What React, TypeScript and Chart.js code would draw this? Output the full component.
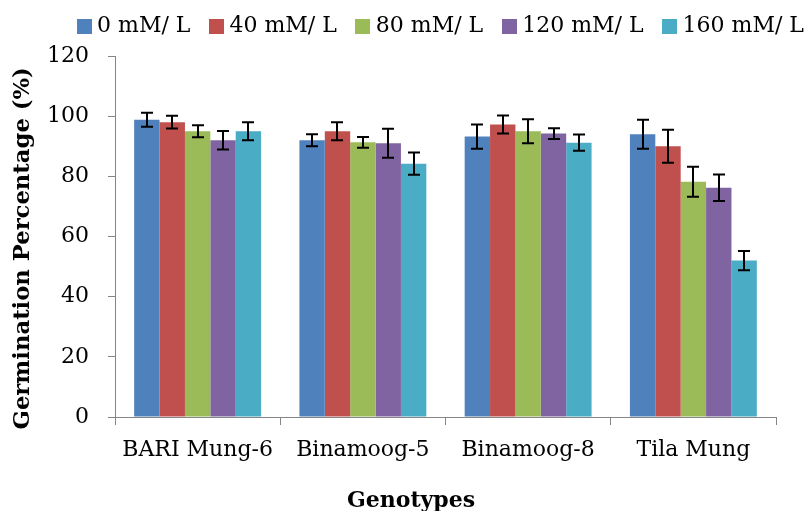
import { useEffect, useRef } from "react";
import { Chart, registerables } from "chart.js";

Chart.register(...registerables);

const categories = ["BARI Mung-6", "Binamoog-5", "Binamoog-8", "Tila Mung"];
const seriesLabels = ["0 mM/ L", "40 mM/ L", "80 mM/ L", "120 mM/ L", "160 mM/ L"];
const seriesColors = ["#4F81BD", "#C0504D", "#9BBB59", "#8064A2", "#4BACC6"];

const s0 = [98.8, 92, 93.2, 94];
const s40 = [98, 95, 97.2, 90];
const s80 = [95, 91.3, 95, 78.2];
const s120 = [92, 91, 94.2, 76.2];
const s160 = [95, 84.2, 91.2, 52];

const e0 = [2.3, 2, 4, 4.8];
const e40 = [2.1, 3, 3, 5.5];
const e80 = [2, 1.8, 4, 5];
const e120 = [3.1, 4.8, 1.8, 4.4];
const e160 = [3, 3.7, 2.7, 3.2];

const yMin = 0;
const yMax = 120;
const yStep = 20;

const seriesValues = [s0, s40, s80, s120, s160];
const seriesErrors = [e0, e40, e80, e120, e160];

const FONT = "'DejaVu Serif', serif";
const AXIS_GRAY = "#868686";

function makeSquare(color: string) {
  const c = document.createElement("canvas");
  c.width = 15;
  c.height = 15;
  const g = c.getContext("2d")!;
  g.fillStyle = color;
  g.fillRect(0, 0, 15, 15);
  return c;
}

const errorBarPlugin = {
  id: "errorBars",
  afterDatasetsDraw(chart: any) {
    const ctx = chart.ctx;
    const yScale = chart.scales.y;
    ctx.save();
    ctx.strokeStyle = "#000";
    ctx.lineWidth = 2;
    chart.data.datasets.forEach((ds: any, i: number) => {
      const meta = chart.getDatasetMeta(i);
      const errs = ds.errors as number[];
      meta.data.forEach((bar: any, j: number) => {
        const v = ds.data[j] as number;
        const e = errs[j];
        const x = Math.round(bar.x);
        const yTop = yScale.getPixelForValue(v + e);
        const yBot = yScale.getPixelForValue(v - e);
        const half = 6;
        ctx.beginPath();
        ctx.moveTo(x, yTop);
        ctx.lineTo(x, yBot);
        ctx.moveTo(x - half, yTop);
        ctx.lineTo(x + half, yTop);
        ctx.moveTo(x - half, yBot);
        ctx.lineTo(x + half, yBot);
        ctx.stroke();
      });
    });
    ctx.restore();
  },
};

const legendShift = {
  id: "legendShift",
  afterLayout(chart: any) {
    const lg = chart.legend;
    if (!lg) return;
    lg.left += 55;
    lg.right += 55;
    lg.top -= 9;
    lg.bottom -= 9;
  },
};

export default function App() {
  const ref = useRef<HTMLCanvasElement>(null);

  useEffect(() => {
    document.body.style.margin = "0";
    if (!ref.current) return;
    Chart.defaults.color = "#000";
    const chart = new Chart(ref.current, {
      type: "bar",
      data: {
        labels: categories,
        datasets: seriesLabels.map((label, i) => ({
          label,
          data: seriesValues[i],
          errors: seriesErrors[i],
          backgroundColor: seriesColors[i],
          borderWidth: 0,
          categoryPercentage: 0.768,
          barPercentage: 1,
        })) as any,
      },
      options: {
        animation: false,
        responsive: false,
        layout: { padding: { left: 0, right: 33, top: 0, bottom: 0 } },
        plugins: {
          tooltip: { enabled: false },
          legend: {
            position: "top",
            maxHeight: 57,
            labels: {
              font: { family: FONT, size: 22 },
              color: "#000",
              usePointStyle: true,
              boxWidth: 4,
              boxHeight: 15,
              padding: 24,
              generateLabels(chart: any) {
                const items = Chart.defaults.plugins.legend.labels.generateLabels(chart);
                return items.map((it: any, i: number) => ({
                  ...it,
                  pointStyle: makeSquare(seriesColors[i]),
                }));
              },
            },
          } as any,
        },
        scales: {
          x: {
            grid: {
              display: true,
              drawOnChartArea: false,
              drawTicks: true,
              tickLength: 8,
              color: AXIS_GRAY,
              offset: true,
            },
            border: { display: true, color: AXIS_GRAY, width: 1 },
            ticks: {
              font: { family: FONT, size: 22 },
              color: "#000",
              padding: 12,
              maxRotation: 0,
              autoSkip: false,
            },
            title: {
              display: true,
              text: "Genotypes         ",
              font: { family: FONT, size: 22, weight: "bold", lineHeight: 0.9 },
              color: "#000",
              padding: { top: 0, bottom: 0 },
            },
            afterFit(scale: any) {
              scale.height = 94;
            },
          },
          y: {
            min: yMin,
            max: yMax,
            grid: {
              display: true,
              drawOnChartArea: false,
              drawTicks: true,
              tickLength: 7,
              color: AXIS_GRAY,
            },
            border: { display: true, color: AXIS_GRAY, width: 1 },
            ticks: {
              stepSize: yStep,
              font: { family: FONT, size: 22 },
              color: "#000",
              padding: 19,
            },
            title: {
              display: true,
              text: "Germination Percentage (%)   ",
              font: { family: FONT, size: 22.7, weight: "bold" },
              color: "#000",
              padding: { top: 9, bottom: 0 },
            },
            afterFit(scale: any) {
              scale.width = 115;
            },
          },
        },
      },
      plugins: [errorBarPlugin, legendShift],
    });
    return () => chart.destroy();
  }, []);

  return (
    <div style={{ position: "absolute", left: 0, top: 0, width: 809, height: 511 }}>
      <canvas ref={ref} width={809} height={511} />
    </div>
  );
}
